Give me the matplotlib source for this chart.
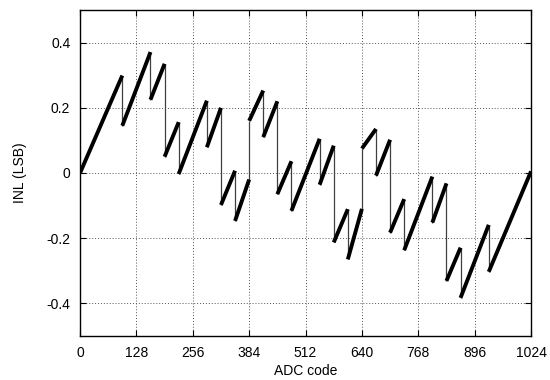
import matplotlib
matplotlib.use('Agg')
import matplotlib.pyplot as plt

plt.rcParams['font.family'] = ['Liberation Sans', 'DejaVu Sans']

# ramp pieces: code range and INL at both ends
seg_start = [0, 96, 160, 192, 224, 288, 320, 352, 384, 416, 448, 480,
             544, 576, 608, 640, 672, 704, 736, 800, 832, 864, 928]
seg_end = [96, 160, 192, 224, 288, 320, 352, 384, 416, 448, 480, 544,
           576, 608, 640, 672, 704, 736, 800, 832, 864, 928, 1024]
inl_start = [0.000, 0.145, 0.225, 0.050, -0.003, 0.079, -0.098, -0.147,
             0.160, 0.110, -0.065, -0.116, -0.036, -0.213, -0.265, 0.075,
             -0.008, -0.183, -0.237, -0.152, -0.331, -0.383, -0.303]
inl_end = [0.299, 0.371, 0.335, 0.156, 0.222, 0.200, 0.007, -0.020,
           0.253, 0.220, 0.036, 0.105, 0.084, -0.111, -0.110, 0.135,
           0.102, -0.080, -0.011, -0.032, -0.229, -0.159, 0.005]

xticks = [0, 128, 256, 384, 512, 640, 768, 896, 1024]
yticks = [-0.4, -0.2, 0, 0.2, 0.4]
ytick_labels = ['-0.4', '-0.2', '0', '0.2', '0.4']

fig = plt.figure(figsize=(5.5, 3.8), dpi=100)
ax = fig.add_axes([0.1455, 0.1158, 0.82, 0.8579])

# jumps between pieces (thin lines)
jump_x = seg_start[1:]
jump_lo = [min(a, b) for a, b in zip(inl_end[:-1], inl_start[1:])]
jump_hi = [max(a, b) for a, b in zip(inl_end[:-1], inl_start[1:])]
ax.vlines(jump_x, jump_lo, jump_hi, color='#404040', linewidth=0.9, zorder=3)

for x0, x1, y0, y1 in zip(seg_start, seg_end, inl_start, inl_end):
    ax.plot([x0, x1], [y0, y1], color='black', linewidth=2.8,
            solid_capstyle='butt', zorder=4)

ax.set_xlim(0, 1024)
ax.set_ylim(-0.5, 0.5)
ax.set_xticks(xticks)
ax.set_yticks(yticks)
ax.set_yticklabels(ytick_labels)
ax.tick_params(direction='in', top=True, right=True, length=4, width=0.8,
               labelsize=10, pad=7)
ax.grid(True, linestyle=(0, (1, 2)), color='#555555', linewidth=0.7)
for s in ax.spines.values():
    s.set_linewidth(1.0)

ax.set_xlabel('ADC code', fontsize=10, labelpad=3)
ax.set_ylabel('INL (LSB)', fontsize=10, labelpad=14)

fig.savefig('out.png', dpi=100)
